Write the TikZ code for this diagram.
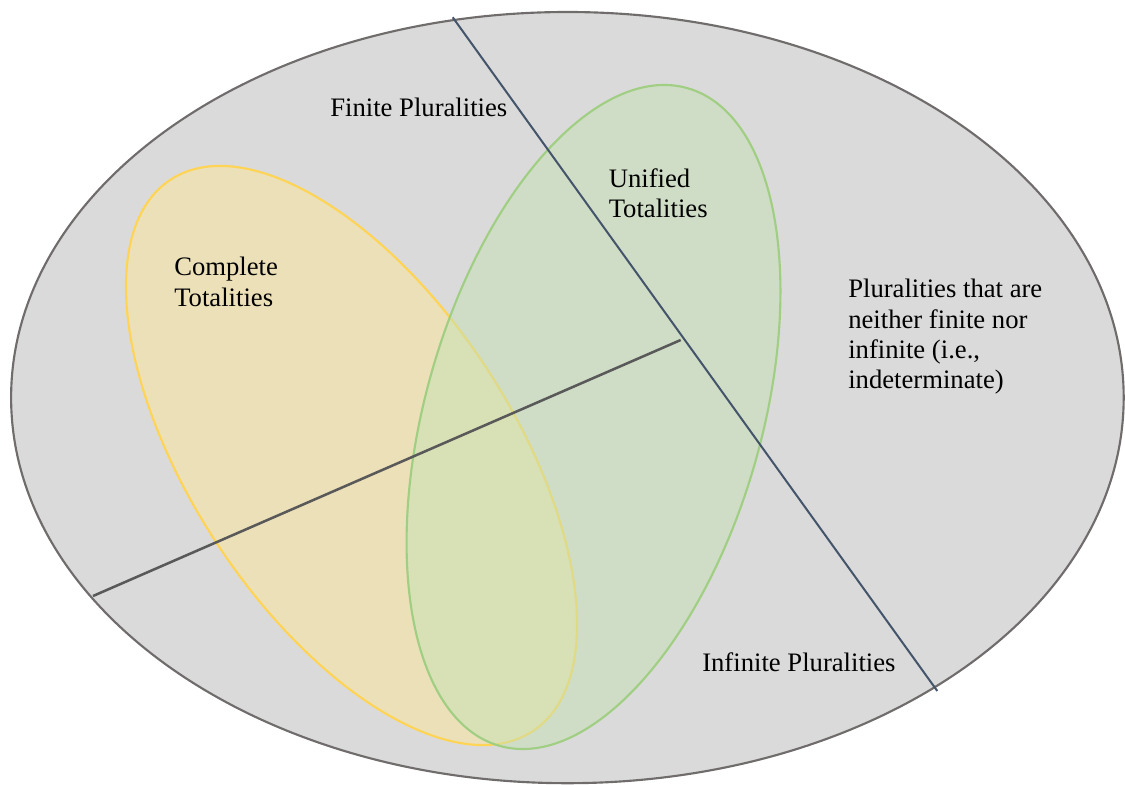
\documentclass[tikz,border=0pt]{standalone}
\usepackage{fontspec}
\setmainfont{Liberation Serif}
\usepackage{tikz}

\begin{document}
\begin{tikzpicture}[x=0.75pt,y=0.75pt,yscale=-1,xscale=1,
        lbl/.style={inner sep=0pt, align=left, font=\fontsize{20}{22.7}\selectfont}]
        \useasboundingbox (0,0) rectangle (1125,785);

        %Shape: Ellipse [id:allPluralities]
        \draw  [color={rgb, 255:red, 112; green, 108; blue, 108 }  ,fill={rgb, 255:red, 218; green, 218; blue, 218 }  ,fill opacity=1 ,line width=1.6] (567.4,397.6) ellipse [x radius=556.3, y radius=385.6] ;
        %Shape: Ellipse [id:completeTot]
        \draw  [color={rgb, 255:red, 255; green, 212; blue, 84 }  ,fill={rgb, 255:red, 255; green, 230; blue, 153 }  ,fill opacity=0.5 ,line width=1.6] [rotate around={56.7:(351.5,455.5)}] (351.5,455.5) ellipse [x radius=329.9, y radius=160.8] ;
        %Shape: Ellipse [id:unifiedTot]
        \draw  [color={rgb, 255:red, 160; green, 206; blue, 130 }  ,fill={rgb, 255:red, 197; green, 224; blue, 180 }  ,fill opacity=0.5 ,line width=1.6] [rotate around={-74:(593.5,417)}] (593.5,417) ellipse [x radius=342, y radius=167.9] ;

        \coordinate (cutTop) at (452.7,17.3);
        \coordinate (cutBot) at (937.3,691);
        \coordinate (splitL) at (93,596);
        \coordinate (splitR) at (680.7,340);

        %Straight Lines [id:finiteCut]
        \draw [color={rgb, 255:red, 68; green, 84; blue, 106 }  ,line width=1.5]   (cutTop) -- (cutBot) ;
        %Straight Lines [id:totalSplit]
        \draw [color={rgb, 255:red, 89; green, 89; blue, 89 }  ,line width=1.9]   (splitL) -- (splitR) ;

        % Text Node
        \node [lbl, anchor=base west] (finite) at (330,116) {Finite Pluralities};
        % Text Node
        \node [lbl, anchor=north west] (complete) at (174,257) {Complete\\Totalities};
        % Text Node
        \node [lbl, anchor=north west] (unified) at (608.5,168) {Unified\\Totalities};
        % Text Node
        \node [lbl, anchor=north west] (neither) at (848,279) {Pluralities that are\\neither finite nor\\infinite (i.e.,\\indeterminate)};
        % Text Node
        \node [lbl, anchor=base west] (infinite) at (702,671) {Infinite Pluralities};

    \end{tikzpicture}
\end{document}
